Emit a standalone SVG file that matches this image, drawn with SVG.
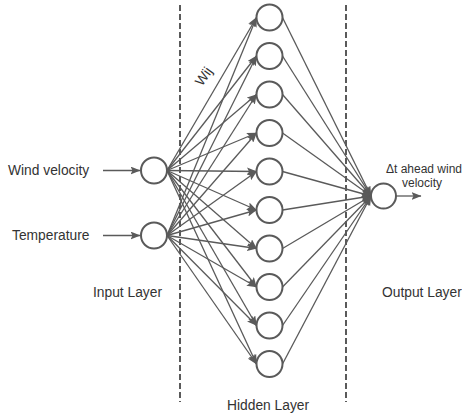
<svg xmlns="http://www.w3.org/2000/svg" width="462" height="417" viewBox="0 0 462 417">
<style>
.t{font-family:"Liberation Sans",Arial,sans-serif;font-size:13.8px;fill:#333}
.s{font-size:12px}
.c{fill:#fff;stroke:#5a5a5a;stroke-width:2}
.e{stroke:#5a5a5a;stroke-width:1.3;fill:none;marker-end:url(#a)}
.d{stroke:#5a5a5a;stroke-width:2;stroke-dasharray:6 3;fill:none}
</style>
<defs>
<marker id="a" markerUnits="userSpaceOnUse" markerWidth="10" markerHeight="8" viewBox="0 0 10 8" refX="9.5" refY="4" orient="auto">
<path d="M0,0 L10,4 L0,8 L2,4 Z" fill="#5a5a5a"/>
</marker>
</defs>
<rect width="462" height="417" fill="#fff"/>
<g id="dividers">
<line class="d" x1="180" y1="5" x2="180" y2="402"/>
<line class="d" x1="346" y1="5" x2="346" y2="402"/>
</g>
<g id="connectors">
<line class="e" x1="103" y1="170.5" x2="140" y2="170.5"/>
<line class="e" x1="103" y1="235.5" x2="140" y2="235.5"/>
<line class="e" x1="396" y1="196" x2="421" y2="196"/>
<path class="e" d="M167,170.5 L256.5,17.5"/>
<path class="e" d="M167,170.5 L256.5,56"/>
<path class="e" d="M167,170.5 L256.5,94.5"/>
<path class="e" d="M167,170.5 L256.5,133"/>
<path class="e" d="M167,170.5 L256.5,171.5"/>
<path class="e" d="M167,170.5 L256.5,210"/>
<path class="e" d="M167,170.5 L256.5,248.5"/>
<path class="e" d="M167,170.5 L256.5,287"/>
<path class="e" d="M167,170.5 L256.5,325.5"/>
<path class="e" d="M167,170.5 L256.5,364"/>
<path class="e" d="M167,235.5 L256.5,17.5"/>
<path class="e" d="M167,235.5 L256.5,56"/>
<path class="e" d="M167,235.5 L256.5,94.5"/>
<path class="e" d="M167,235.5 L256.5,133"/>
<path class="e" d="M167,235.5 L256.5,171.5"/>
<path class="e" d="M167,235.5 L256.5,210"/>
<path class="e" d="M167,235.5 L256.5,248.5"/>
<path class="e" d="M167,235.5 L256.5,287"/>
<path class="e" d="M167,235.5 L256.5,325.5"/>
<path class="e" d="M167,235.5 L256.5,364"/>
<path class="e" d="M282.5,17.5 L371,196"/>
<path class="e" d="M282.5,56 L371,196"/>
<path class="e" d="M282.5,94.5 L371,196"/>
<path class="e" d="M282.5,133 L371,196"/>
<path class="e" d="M282.5,171.5 L371,196"/>
<path class="e" d="M282.5,210 L371,196"/>
<path class="e" d="M282.5,248.5 L371,196"/>
<path class="e" d="M282.5,287 L371,196"/>
<path class="e" d="M282.5,325.5 L371,196"/>
<path class="e" d="M282.5,364 L371,196"/>
<text class="t" transform="translate(207.5,79) rotate(-55)" text-anchor="middle">Wij</text>
</g>
<g id="in1"><circle class="c" cx="154" cy="170.5" r="13"/></g>
<g id="in2"><circle class="c" cx="154" cy="235.5" r="13"/></g>
<g id="h1"><circle class="c" cx="269.5" cy="17.5" r="13"/></g>
<g id="h2"><circle class="c" cx="269.5" cy="56" r="13"/></g>
<g id="h3"><circle class="c" cx="269.5" cy="94.5" r="13"/></g>
<g id="h4"><circle class="c" cx="269.5" cy="133" r="13"/></g>
<g id="h5"><circle class="c" cx="269.5" cy="171.5" r="13"/></g>
<g id="h6"><circle class="c" cx="269.5" cy="210" r="13"/></g>
<g id="h7"><circle class="c" cx="269.5" cy="248.5" r="13"/></g>
<g id="h8"><circle class="c" cx="269.5" cy="287" r="13"/></g>
<g id="h9"><circle class="c" cx="269.5" cy="325.5" r="13"/></g>
<g id="h10"><circle class="c" cx="269.5" cy="364" r="13"/></g>
<g id="out"><circle class="c" cx="383.5" cy="196" r="12.5"/></g>
<g id="labels">
<text class="t" x="8" y="175">Wind velocity</text>
<text class="t" x="12" y="240">Temperature</text>
<text class="t" x="93" y="297">Input Layer</text>
<text class="t" x="227" y="410">Hidden Layer</text>
<text class="t" x="382" y="297">Output Layer</text>
<text class="t s" x="424" y="173" text-anchor="middle">Δt ahead wind</text>
<text class="t s" x="422" y="187" text-anchor="middle">velocity</text>
</g>
</svg>
